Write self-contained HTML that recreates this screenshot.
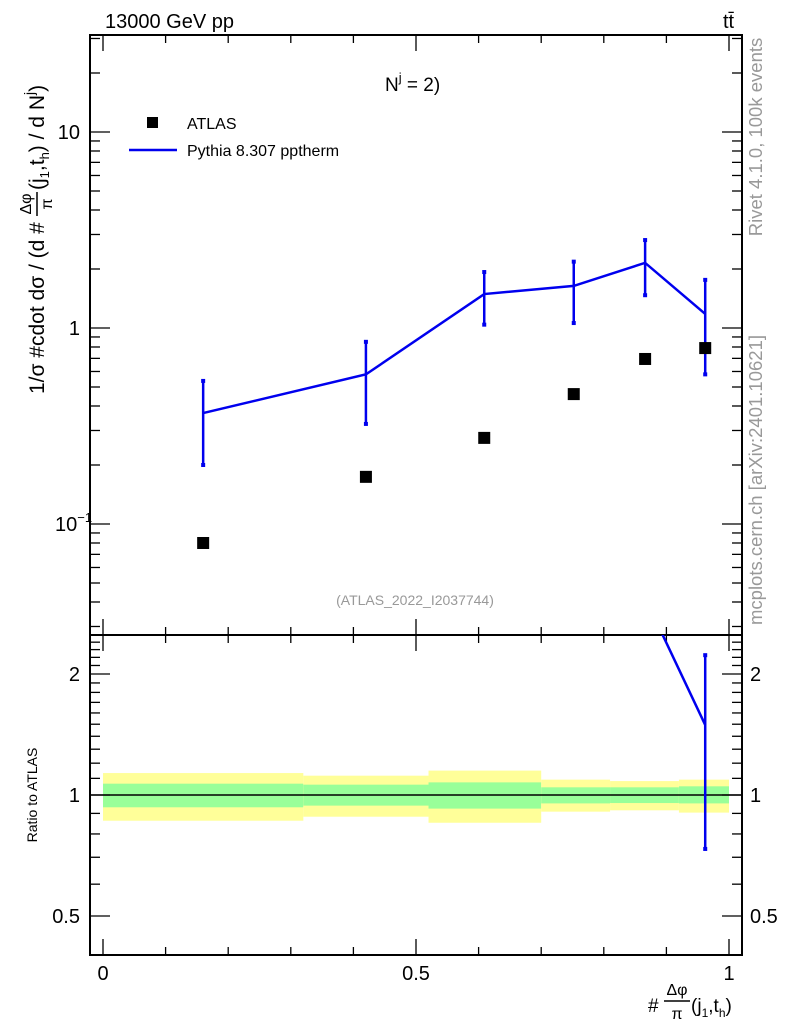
<!DOCTYPE html>
<html><head><meta charset="utf-8"><style>
body{margin:0;background:#fff}
svg{display:block;font-family:"Liberation Sans",sans-serif}
</style></head><body>
<svg id="c" width="786" height="1024" viewBox="0 0 786 1024">
<g id="bands"></g>
<g id="axes"></g>
<g id="marks"></g>
<text x="105" y="28" font-size="20">13000 GeV pp</text>
<text x="723" y="28" font-size="20">tt̄</text>
<text x="385" y="91" font-size="19">N<tspan dy="-9" font-size="13">j</tspan><tspan dy="9"> = 2)</tspan></text>
<rect x="147" y="117" width="11" height="11" fill="#000"/>
<text x="187" y="129" font-size="16">ATLAS</text>
<line x1="129" y1="150" x2="177" y2="150" stroke="#0000ee" stroke-width="2.5"/>
<text x="187" y="156" font-size="16">Pythia 8.307 pptherm</text>
<text x="415" y="605" font-size="14" fill="#999" text-anchor="middle">(ATLAS_2022_I2037744)</text>
<text transform="translate(762,137) rotate(-90)" font-size="18.5" fill="#999" text-anchor="middle">Rivet 4.1.0, 100k events</text>
<text transform="translate(762,480) rotate(-90)" font-size="18.5" fill="#999" text-anchor="middle">mcplots.cern.ch [arXiv:2401.10621]</text>
<g transform="translate(44,212) rotate(-90)">
<text x="-182" y="0" font-size="21">1/σ #cdot dσ / (d #</text>
<text x="8" y="-13" font-size="16" text-anchor="middle">Δφ</text>
<line x1="-4" y1="-7" x2="20" y2="-7" stroke="#000" stroke-width="1.5"/>
<text x="8" y="8" font-size="16" text-anchor="middle">π</text>
<text x="22" y="0" font-size="21">(j<tspan font-size="13" dy="5">1</tspan><tspan dy="-5">,t</tspan><tspan font-size="13" dy="5">h</tspan><tspan dy="-5">) / d N</tspan><tspan font-size="14" dy="-10">j</tspan><tspan dy="10">)</tspan></text>
</g>
<text transform="translate(37,795) rotate(-90)" font-size="14" text-anchor="middle">Ratio to ATLAS</text>
<g>
<text x="648" y="1012" font-size="19">#</text>
<text x="677" y="995" font-size="16" text-anchor="middle">Δφ</text>
<line x1="664" y1="1001" x2="690" y2="1001" stroke="#000" stroke-width="1.5"/>
<text x="677" y="1019" font-size="16" text-anchor="middle">π</text>
<text x="691" y="1012" font-size="19">(j<tspan font-size="12" dy="5">1</tspan><tspan dy="-5">,t</tspan><tspan font-size="12" dy="5">h</tspan><tspan dy="-5">)</tspan></text>
</g>
</svg>
<script>
const binEdges=[0,0.32,0.52,0.70,0.81,0.92,1.0];
const xCenters=[0.16,0.42,0.609,0.752,0.866,0.962];
const atlasVals=[0.080,0.174,0.275,0.46,0.695,0.79];
const pythiaVals=[0.368,0.58,1.49,1.64,2.15,1.18];
const pythiaUp=[0.537,0.85,1.93,2.18,2.81,1.76];
const pythiaDn=[0.20,0.324,1.04,1.06,1.47,0.58];
const yellowUp=[1.134,1.117,1.15,1.092,1.083,1.092];
const yellowDn=[0.863,0.883,0.853,0.909,0.916,0.904];
const greenUp=[1.067,1.061,1.075,1.045,1.045,1.051];
const greenDn=[0.932,0.941,0.925,0.953,0.955,0.953];
const xTicks=[0,0.5,1];const xTickLabels=["0","0.5","1"];
const mainTicks=[0.1,1,10];const mainTickLabels=["10","1","10"];
const ratioTicks=[0.5,1,2];const ratioTickLabels=["0.5","1","2"];

const NS="http://www.w3.org/2000/svg";
const L=90,R=742,T=35,MB=635,RB=955;
const X=v=>103+v*626;
const Y=v=>328-196*Math.log10(v);
const YR=v=>795-121*Math.log2(v);
function mk(p,t,a){const e=document.createElementNS(NS,t);for(const k in a)e.setAttribute(k,a[k]);document.getElementById(p).appendChild(e);return e;}

for(let i=0;i<binEdges.length-1;i++){
 const x1=X(binEdges[i]),x2=X(binEdges[i+1]);
 let e=mk('bands','rect',{x:x1,y:YR(yellowUp[i]),width:x2-x1,height:YR(yellowDn[i])-YR(yellowUp[i]),fill:'#ffff99'});
 
 
 e=mk('bands','rect',{x:x1,y:YR(greenUp[i]),width:x2-x1,height:YR(greenDn[i])-YR(greenUp[i]),fill:'#99ff99'});
 
 
}
[[T,MB],[MB,RB]].forEach(([a,b],k)=>{const e=mk('axes','rect',{x:L,y:a,width:R-L,height:b-a,fill:'none',stroke:'#000','stroke-width':2});
 
 });
let ref=mk('axes','line',{x1:L,x2:R,y1:YR(1),y2:YR(1),stroke:'#000','stroke-width':1.5});


for(let i=0;i<=10;i++){const v=i/10,x=X(v),len=(i%5==0)?16:8;
 [[T,1],[MB,-1],[MB,1],[RB,-1]].forEach(([y,d])=>mk('axes','line',{x1:x,x2:x,y1:y,y2:y+d*len,stroke:'#000','stroke-width':1.3}));}
xTicks.forEach((v,i)=>{const e=mk('axes','text',{x:X(v),y:980,'font-size':20,'text-anchor':'middle'});e.textContent=xTickLabels[i];
 
 });
for(let d=-2;d<=1;d++)for(let m=1;m<10;m++){const v=m*Math.pow(10,d),y=Y(v);if(y<T||y>MB)continue;const len=m==1?20:10;
 mk('axes','line',{x1:L,x2:L+len,y1:y,y2:y,stroke:'#000','stroke-width':1.3});
 mk('axes','line',{x1:R,x2:R-len,y1:y,y2:y,stroke:'#000','stroke-width':1.3});}
mainTicks.forEach((v,i)=>{const y=Y(v);let e;
 if(v===0.1){e=mk('axes','text',{x:55,y:y+7,'font-size':20});e.innerHTML='10<tspan dy="-9" font-size="13">−1</tspan>';}
 else{e=mk('axes','text',{x:80,y:y+7,'font-size':20,'text-anchor':'end'});e.textContent=mainTickLabels[i];}
 
 });
for(let v=0.4;v<=2.5;v+=0.1){const y=YR(v);if(y<MB||y>RB)continue;const maj=[0.5,1,2].some(t=>Math.abs(t-v)<1e-6);const len=maj?20:10;
 mk('axes','line',{x1:L,x2:L+len,y1:y,y2:y,stroke:'#000','stroke-width':1.3});
 mk('axes','line',{x1:R,x2:R-len,y1:y,y2:y,stroke:'#000','stroke-width':1.3});}
ratioTicks.forEach((v,i)=>{const y=YR(v);
 let e=mk('axes','text',{x:80,y:y+7,'font-size':20,'text-anchor':'end'});e.textContent=ratioTickLabels[i];
 
 
 e=mk('axes','text',{x:750,y:y+7,'font-size':20});e.textContent=ratioTickLabels[i];
 
 });
let pl=mk('marks','polyline',{points:xCenters.map((x,i)=>X(x)+','+Y(pythiaVals[i])).join(' '),fill:'none',stroke:'#0000ee','stroke-width':2.5});


xCenters.forEach((x,i)=>{const e=mk('marks','line',{x1:X(x),x2:X(x),y1:Y(pythiaUp[i]),y2:Y(pythiaDn[i]),stroke:'#0000ee','stroke-width':2.5});
 
 
 [pythiaUp[i],pythiaDn[i]].forEach(v=>mk('marks','rect',{x:X(x)-2,y:Y(v)-2,width:4,height:4,fill:'#0000ee'}));
 const r=mk('marks','rect',{x:X(x)-6,y:Y(atlasVals[i])-6,width:12,height:12,fill:'#000'});
 
 });
const cp=mk('marks','clipPath',{id:'rc'});
const cr=document.createElementNS(NS,'rect');cr.setAttribute('x',L);cr.setAttribute('y',MB);cr.setAttribute('width',R-L);cr.setAttribute('height',RB-MB);cp.appendChild(cr);
let rl=mk('marks','polyline',{points:xCenters.map((x,i)=>X(x)+','+YR(pythiaVals[i]/atlasVals[i])).join(' '),fill:'none',stroke:'#0000ee','stroke-width':2.5,'clip-path':'url(#rc)'});


xCenters.forEach((x,i)=>{const c0=pythiaVals[i]/atlasVals[i];const yc=YR(c0);if(yc<MB||yc>RB)return;
 const u=pythiaUp[i]/atlasVals[i],d=pythiaDn[i]/atlasVals[i];
 const g=mk('marks','g',{'clip-path':'url(#rc)'});
 
 
 const ln=document.createElementNS(NS,'line');[['x1',X(x)],['x2',X(x)],['y1',YR(u)],['y2',YR(d)],['stroke','#0000ee'],['stroke-width',2.5]].forEach(([k,v])=>ln.setAttribute(k,v));g.appendChild(ln);
 [u,d].forEach(v=>{const c=document.createElementNS(NS,'rect');[['x',X(x)-2],['y',YR(v)-2],['width',4],['height',4],['fill','#0000ee']].forEach(([k,vv])=>c.setAttribute(k,vv));g.appendChild(c);});});
</script>
</body></html>
